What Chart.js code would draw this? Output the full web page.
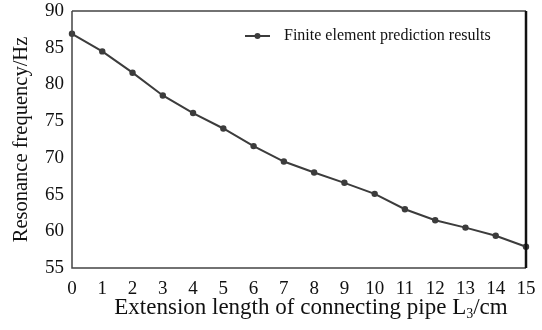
<!DOCTYPE html>
<html>
<head>
<meta charset="utf-8">
<script src="https://cdn.jsdelivr.net/npm/chart.js@4/dist/chart.umd.min.js"></script>
<style>
html,body{margin:0;padding:0;background:#fff;}
#wrap{width:542px;height:330px;position:relative;}
</style>
</head>
<body>
<div id="wrap"><canvas id="c" width="542" height="330"></canvas></div>
<script>
const categories = ["0","1","2","3","4","5","6","7","8","9","10","11","12","13","14","15"];
const feValues = [86.9, 84.5, 81.6, 78.5, 76.1, 74.0, 71.6, 69.5, 68.0, 66.6, 65.1, 63.0, 61.5, 60.5, 59.4, 57.9];
const seriesLabel = "Finite element prediction results";
const xTitleParts = ["Extension length of connecting pipe L", "3", "/cm"];
const yTitle = "Resonance frequency/Hz";

const serif = "'Liberation Serif', 'DejaVu Serif', serif";
const ink = "#3c3c3c";

const framePlugin = {
  id: 'frame',
  afterDatasetsDraw(chart) {
    const {ctx, chartArea: a} = chart;
    ctx.save();
    ctx.strokeStyle = '#444';
    ctx.lineWidth = 1.5;
    ctx.beginPath();
    ctx.moveTo(a.left, a.top); ctx.lineTo(a.right, a.top);
    ctx.moveTo(a.left, a.top); ctx.lineTo(a.left, a.bottom);
    ctx.lineTo(a.right, a.bottom);
    ctx.stroke();
    ctx.strokeStyle = '#111';
    ctx.lineWidth = 2.5;
    ctx.beginPath();
    ctx.moveTo(a.right, a.top); ctx.lineTo(a.right, a.bottom);
    ctx.stroke();
    // legend
    const lx = 245, ly = 36;
    ctx.strokeStyle = ink; ctx.lineWidth = 2;
    ctx.beginPath(); ctx.moveTo(lx, ly); ctx.lineTo(lx + 25, ly); ctx.stroke();
    ctx.fillStyle = ink;
    ctx.beginPath(); ctx.arc(lx + 12.5, ly, 3, 0, Math.PI * 2); ctx.fill();
    ctx.fillStyle = '#111';
    ctx.font = "16px " + serif;
    ctx.textBaseline = 'middle';
    ctx.textAlign = 'left';
    ctx.fillText(chart.data.datasets[0].label, 284, ly);
    // x axis title with subscript
    const big = "23px " + serif, small = "14px " + serif;
    ctx.font = big; const w1 = ctx.measureText(xTitleParts[0]).width;
    const w3 = ctx.measureText(xTitleParts[2]).width;
    ctx.font = small; const w2 = ctx.measureText(xTitleParts[1]).width;
    const total = w1 + w2 + w3;
    let x = 311 - total / 2;
    const by = 314;
    ctx.textBaseline = 'alphabetic';
    ctx.font = big; ctx.fillText(xTitleParts[0], x, by); x += w1;
    ctx.font = small; ctx.fillText(xTitleParts[1], x, by + 4); x += w2;
    ctx.font = big; ctx.fillText(xTitleParts[2], x, by);
    ctx.restore();
  }
};

new Chart(document.getElementById('c'), {
  type: 'line',
  data: {
    labels: categories,
    datasets: [{
      label: seriesLabel,
      data: feValues,
      borderColor: ink,
      backgroundColor: ink,
      borderWidth: 2,
      pointRadius: 3.2,
      pointStyle: 'circle',
      pointBackgroundColor: ink,
      pointBorderWidth: 0,
      tension: 0
    }]
  },
  options: {
    responsive: false,
    animation: false,
    devicePixelRatio: 1,
    layout: { padding: { top: 11, right: 16, left: 0, bottom: 0 } },
    plugins: { legend: { display: false }, tooltip: { enabled: false } },
    scales: {
      x: {
        type: 'category',
        offset: false,
        grid: { display: false, drawTicks: false },
        border: { display: false },
        ticks: { color: '#111', font: { family: serif, size: 19 }, padding: 10, maxRotation: 0, autoSkip: false },
        title: { display: false },
        afterFit(s) { s.height = 62; s.paddingLeft = 0; s.paddingRight = 0; }
      },
      y: {
        min: 55, max: 90,
        grid: { display: false, drawTicks: false },
        border: { display: false },
        ticks: { stepSize: 5, color: '#111', font: { family: serif, size: 19 }, padding: 8 },
        title: { display: true, text: yTitle, color: '#111', font: { family: serif, size: 20.5 }, padding: { top: 9, bottom: 0 } },
        afterFit(s) { s.width = 72; s.paddingTop = 0; s.paddingBottom = 0; }
      }
    }
  },
  plugins: [framePlugin]
});
</script>
</body>
</html>
